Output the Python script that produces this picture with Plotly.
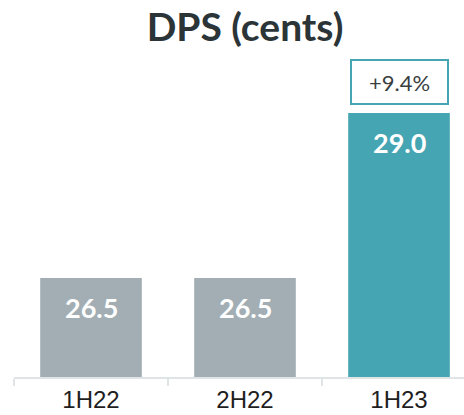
import plotly.graph_objects as go

categories = ["1H22", "2H22", "1H23"]
dps_values = [26.5, 26.5, 29.0]
bar_colors = ["#a2aeb4", "#a2aeb4", "#45a5b3"]
title_text = "DPS (cents)"

growth = (dps_values[2] / dps_values[1] - 1) * 100
growth_label = f"+{growth:.1f}%"

fig = go.Figure()
fig.add_trace(go.Bar(
    x=categories, y=dps_values,
    marker=dict(color=bar_colors, line=dict(width=0)),
    hoverinfo="skip",
))

for c, v in zip(categories, dps_values):
    fig.add_annotation(
        x=c, y=v, xref="x", yref="y", text=f"<b>{v:.1f}</b>",
        showarrow=False, yanchor="top", yshift=-11,
        font=dict(family="Lato", size=27, color="white"),
    )

fig.add_annotation(
    x=categories[2], y=dps_values[2], xref="x", yref="y",
    text=growth_label, showarrow=False, yanchor="bottom", yshift=8,
    width=95, height=42, borderpad=0, borderwidth=2, bordercolor="#45a5b3",
    bgcolor="white",
    font=dict(family="Lato", size=22, color="#3a3f42"),
)

fig.update_layout(
    width=464, height=415,
    margin=dict(l=14, r=0, t=47, b=38),
    paper_bgcolor="white", plot_bgcolor="white",
    showlegend=False, bargap=0.34,
    title=dict(text=f"<b>{title_text}</b>", x=245/464, xanchor="center",
               y=1 - 27/415, yanchor="middle", yref="container",
               font=dict(family="Lato", size=39, color="#2b3437")),
)
fig.update_xaxes(
    type="category", range=[-0.5, 2.422],
    showline=True, linecolor="#dfe5e7", linewidth=2,
    ticks="outside", tickson="boundaries", ticklen=7, tickwidth=2, tickcolor="#dfe5e7",
    showgrid=False, zeroline=False,
    tickfont=dict(family="Liberation Sans", size=24, color="#1e1e1e"),
)
fig.update_yaxes(range=[25, 30], visible=False, showgrid=False, zeroline=False)

fig.write_html("out.html", config={"displayModeBar": False},
               post_script="document.body.style.margin='0';document.body.style.overflow='hidden';")
